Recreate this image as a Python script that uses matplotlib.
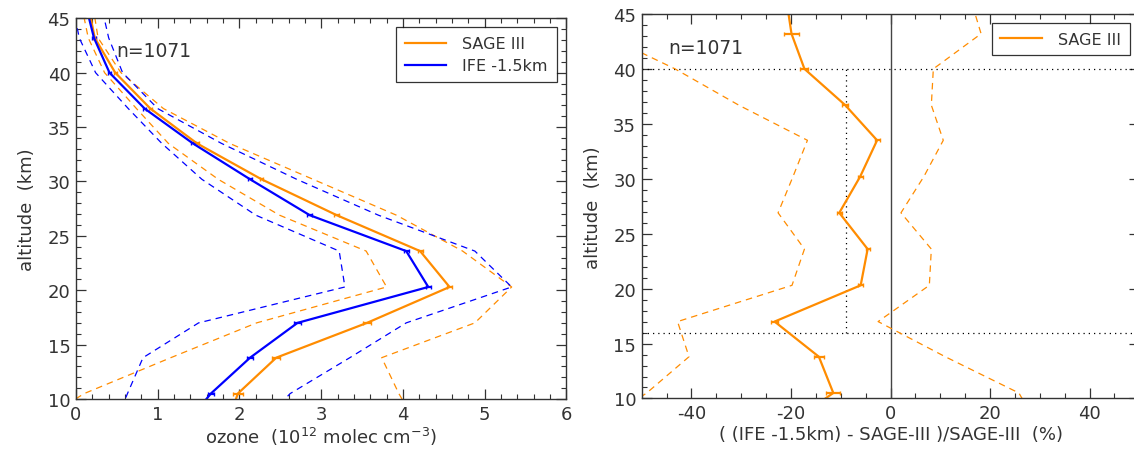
import numpy as np
import matplotlib
matplotlib.use('Agg')
import matplotlib.pyplot as plt
from matplotlib.ticker import MultipleLocator
from matplotlib.lines import Line2D

plt.rcParams['font.family'] = ['DejaVu Sans']
plt.rcParams['axes.unicode_minus'] = False

# Altitudes (km) of the profile levels
alt = [7.2, 10.5, 13.8, 17.0, 20.3, 23.6, 26.9, 30.2, 33.5, 36.7, 40.0, 43.2, 46.5]

# Left panel: ozone number density (1e12 molec cm^-3)
sage_mean = [1.83, 1.98, 2.45, 3.56, 4.57, 4.21, 3.19, 2.27, 1.48, 0.91, 0.48, 0.23, 0.14]
sage_err = [0.06, 0.06, 0.05, 0.05, 0.03, 0.03, 0.03, 0.02, 0.02, 0.02, 0.02, 0.02, 0.02]
sage_lo = [-0.6, 0.10, 1.16, 2.21, 3.80, 3.55, 2.49, 1.74, 1.13, 0.74, 0.35, 0.15, 0.06]
sage_hi = [4.2, 3.95, 3.74, 4.88, 5.33, 4.73, 3.92, 2.90, 1.88, 1.07, 0.55, 0.27, 0.20]

ife_mean = [1.29, 1.65, 2.13, 2.71, 4.31, 4.04, 2.86, 2.13, 1.43, 0.84, 0.41, 0.22, 0.11]
ife_err = [0.05, 0.04, 0.04, 0.04, 0.03, 0.03, 0.03, 0.02, 0.02, 0.02, 0.02, 0.02, 0.02]
ife_lo = [0.45, 0.63, 0.82, 1.50, 3.29, 3.22, 2.20, 1.54, 1.05, 0.64, 0.24, 0.04, -0.05]
ife_hi = [2.2, 2.62, 3.35, 4.04, 5.33, 4.88, 3.70, 2.70, 1.78, 1.00, 0.57, 0.40, 0.30]

# Right panel: relative difference (%)
diff_mean = [-22.0, -11.5, -14.4, -23.3, -6.0, -4.6, -10.3, -6.1, -2.7, -9.1, -17.3, -19.9, -21.0]
diff_err = [2.0, 1.4, 1.0, 0.7, 0.5, 0.4, 0.5, 0.5, 0.5, 0.6, 0.8, 1.5, 2.0]
diff_lo = [-60.0, -49.0, -40.5, -42.8, -19.8, -17.3, -22.6, -19.6, -16.7, -30.5, -43.3, -58.0, -60.0]
diff_hi = [30.0, 25.8, 11.0, -2.5, 7.8, 8.2, 2.1, 6.7, 10.6, 8.2, 8.6, 18.2, 16.0]

n_prof = 1071
trop_alt = 16.0
top_alt = 40.0
mean_bias = -8.9

ORANGE = '#ff8c00'
BLUE = '#0000ff'
GREY = '#333333'

fig = plt.figure(figsize=(11.34, 4.52), dpi=100)
ax1 = fig.add_axes([0.0670, 0.1150, 0.4325, 0.8423])
ax2 = fig.add_axes([0.5659, 0.1162, 0.4388, 0.8507])

dash = (0, (5.2, 4.0))
dots = (0, (1, 3.2))


def style_axes(ax):
    for sp in ax.spines.values():
        sp.set_color(GREY)
        sp.set_linewidth(1.0)
    ax.tick_params(which='both', direction='in', top=True, right=True,
                   colors=GREY, labelcolor=GREY, labelsize=13)
    ax.tick_params(which='major', length=7, width=0.9, pad=4)
    ax.tick_params(which='minor', length=3.5, width=0.8)
    ax.set_ylim(10, 45)
    ax.yaxis.set_major_locator(MultipleLocator(5))
    ax.yaxis.set_minor_locator(MultipleLocator(1))
    ax.set_ylabel('altitude  (km)', fontsize=13, color=GREY, labelpad=8)


def add_legend(ax, handles, anchor):
    leg = ax.legend(handles=handles, loc='upper right', bbox_to_anchor=anchor,
                    borderaxespad=0, fontsize=11.5, frameon=True,
                    fancybox=False, handlelength=2.6, handletextpad=1.0,
                    borderpad=0.55, labelspacing=0.45)
    leg.get_frame().set_edgecolor('black')
    leg.get_frame().set_linewidth(0.9)
    for t in leg.get_texts():
        t.set_color(GREY)


# ---- left panel ----
ax1.plot(sage_lo, alt, color=ORANGE, lw=0.9, ls=dash)
ax1.plot(sage_hi, alt, color=ORANGE, lw=0.9, ls=dash)
ax1.plot(ife_lo, alt, color=BLUE, lw=0.9, ls=dash)
ax1.plot(ife_hi, alt, color=BLUE, lw=0.9, ls=dash)
ax1.errorbar(sage_mean, alt, xerr=sage_err, color=ORANGE, lw=1.6,
             elinewidth=1.6, capsize=1.5)
ax1.errorbar(ife_mean, alt, xerr=ife_err, color=BLUE, lw=1.6,
             elinewidth=1.6, capsize=1.5)

ax1.set_xlim(0, 6)
ax1.xaxis.set_major_locator(MultipleLocator(1))
ax1.xaxis.set_minor_locator(MultipleLocator(0.2))
style_axes(ax1)
ax1.set_xlabel('ozone  (10$^{12}$ molec cm$^{-3}$)', fontsize=13,
               color=GREY, labelpad=2)
ax1.text(0.083, 0.915, 'n=%d' % n_prof, transform=ax1.transAxes,
         fontsize=13.5, color=GREY, va='center', ha='left')
add_legend(ax1, [Line2D([], [], color=ORANGE, lw=1.6, label='SAGE III'),
                 Line2D([], [], color=BLUE, lw=1.6, label='IFE -1.5km')],
           (0.980, 0.976))

# ---- right panel ----
ax2.axvline(0, color='#444444', lw=1.0)
ax2.axhline(top_alt, color='black', lw=0.9, ls=dots)
ax2.axhline(trop_alt, color='black', lw=0.9, ls=dots)
ax2.plot([mean_bias, mean_bias], [trop_alt, top_alt], color='black',
         lw=0.9, ls=dots)
ax2.plot(diff_lo, alt, color=ORANGE, lw=0.9, ls=dash)
ax2.plot(diff_hi, alt, color=ORANGE, lw=0.9, ls=dash)
ax2.errorbar(diff_mean, alt, xerr=diff_err, color=ORANGE, lw=1.6,
             elinewidth=1.6, capsize=1.5)

ax2.set_xlim(-50, 50)
ax2.xaxis.set_major_locator(MultipleLocator(20))
ax2.xaxis.set_minor_locator(MultipleLocator(5))
style_axes(ax2)
ax2.set_xlabel('( (IFE -1.5km) - SAGE-III )/SAGE-III  (%)', fontsize=13,
               color=GREY, labelpad=2)
ax2.text(0.053, 0.912, 'n=%d' % n_prof, transform=ax2.transAxes,
         fontsize=13.5, color=GREY, va='center', ha='left')
add_legend(ax2, [Line2D([], [], color=ORANGE, lw=1.6, label='SAGE III')],
           (0.9805, 0.977))

fig.savefig('out.png', dpi=100)
